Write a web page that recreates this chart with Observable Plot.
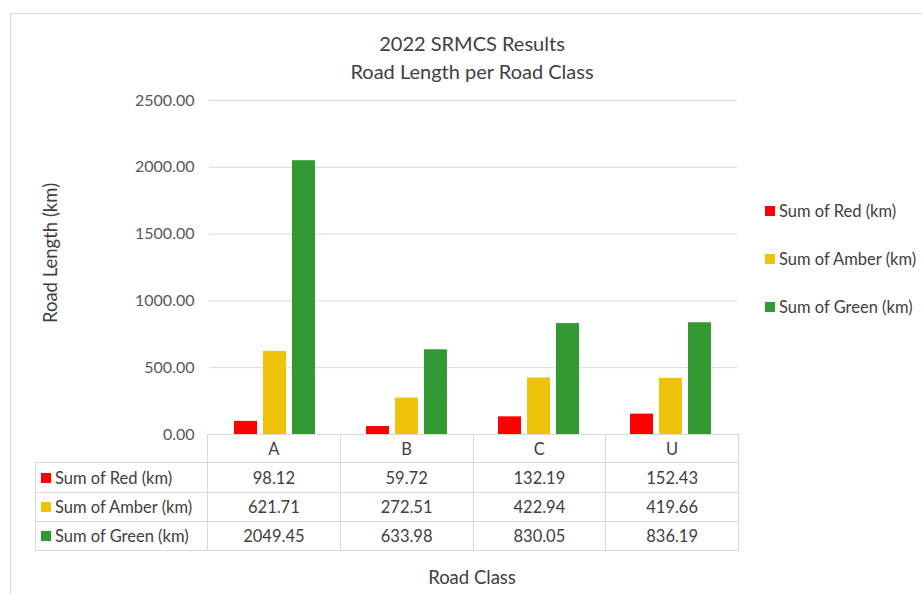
<!DOCTYPE html>
<html><head><meta charset="utf-8">
<script src="https://cdn.jsdelivr.net/npm/d3@7"></script>
<script src="https://cdn.jsdelivr.net/npm/@observablehq/plot@0.6"></script>
<style>
body{margin:0;background:#fff;font-family:Lato,"Open Sans",sans-serif;color:#595959;}
#wrap{position:relative;width:922px;height:594px;overflow:hidden;background:#fff;}
#frame{position:absolute;left:10px;top:13px;width:960px;height:640px;border:1px solid #d9d9d9;box-sizing:border-box;}
.abs{position:absolute;white-space:nowrap;}
#title{left:0;width:944px;top:29px;text-align:center;font-size:20px;line-height:28px;color:#404040;}
#ytitle{left:50px;top:253px;transform:translate(-50%,-50%) rotate(-90deg);font-size:18.5px;color:#404040;}
#xtitle{left:472px;top:577px;transform:translate(-50%,-50%);font-size:18.5px;color:#404040;}
.leg{font-size:16.5px;color:#404040;display:flex;align-items:center;}
.sw{display:inline-block;width:10px;height:10px;margin-right:4px;flex:none;}
.cell{position:absolute;box-sizing:border-box;border:1px solid #d9d9d9;display:flex;align-items:center;justify-content:center;font-size:16.5px;color:#404040;white-space:nowrap;}
.rowlab{justify-content:flex-start;padding-left:5px;}
</style>
</head><body>
<div id="wrap"><div id="frame"></div></div>
<script>
const categories = ["A", "B", "C", "U"];
const seriesNames = ["Sum of Red (km)", "Sum of Amber (km)", "Sum of Green (km)"];
const red = [98.12, 59.72, 132.19, 152.43];
const amber = [621.71, 272.51, 422.94, 419.66];
const green = [2049.45, 633.98, 830.05, 836.19];
const colors = ["#ff0000", "#efc20b", "#339933"];
const yTicks = [0, 500, 1000, 1500, 2000, 2500];
const titleLines = ["2022 SRMCS Results", "Road Length per Road Class"];
const yTitle = "Road Length (km)";
const xTitle = "Road Class";

const seriesValues = [red, amber, green];
const rows = categories.flatMap((c, i) => seriesValues.map((arr, k) => ({cls: c, series: seriesNames[k], value: arr[i]})));

const W = 922, H = 594;
const plotLeft = 207, plotRight = 738, plotTop = 100, plotBottom = 434;
const wrap = document.getElementById("wrap");

const chart = Plot.plot({
  width: W, height: H,
  marginTop: plotTop, marginBottom: H - plotBottom, marginLeft: plotLeft, marginRight: W - plotRight,
  style: {fontFamily: "Lato, 'Open Sans', sans-serif", background: "transparent"},
  fx: {domain: categories, padding: 0, axis: null, label: null},
  x: {domain: seriesNames, paddingInner: 0.2, paddingOuter: 0.87, axis: null, label: null},
  y: {domain: [0, 2500], label: null, axis: null},
  color: {domain: seriesNames, range: colors},
  marks: [
    Plot.gridY(yTicks, {stroke: "#d9d9d9", strokeOpacity: 1, strokeWidth: 1}),
    Plot.axisY(yTicks, {tickSize: 0, tickPadding: 15, tickFormat: d => d.toFixed(2), fontSize: 16, fill: "#595959", label: null, facetAnchor: "left"}),
    Plot.barY(rows, {fx: "cls", x: "series", y: "value", fill: "series"})
  ]
});
chart.style.position = "absolute";
chart.style.left = "0px";
chart.style.top = "0px";
wrap.appendChild(chart);

function add(html, cls, id, style) {
  const d = document.createElement("div");
  d.className = cls;
  if (id) d.id = id;
  if (style) Object.assign(d.style, style);
  d.innerHTML = html;
  wrap.appendChild(d);
  return d;
}
add(titleLines.join("<br>"), "abs", "title");
add(yTitle, "abs", "ytitle");
add(xTitle, "abs", "xtitle");

// legend
const legY = [211, 259, 307];
seriesNames.forEach((s, k) => {
  add(`<span class="sw" style="background:${colors[k]}"></span>${s}`, "abs leg", null, {left: "765px", top: (legY[k] - 10) + "px", height: "20px"});
});

// data table
const tableLeft = 35;
const colW = (plotRight - plotLeft) / categories.length;
const rowTops = [434, 462, 492, 521, 550];
categories.forEach((c, i) => {
  add(c, "cell", null, {left: (plotLeft + i * colW) + "px", top: rowTops[0] + "px", width: (colW + 1) + "px", height: (rowTops[1] - rowTops[0] + 1) + "px"});
});
seriesNames.forEach((s, k) => {
  const top = rowTops[k + 1], h = rowTops[k + 2] - top + 1;
  add(`<span class="sw" style="background:${colors[k]}"></span>${s}`, "cell rowlab", null, {left: tableLeft + "px", top: top + "px", width: (plotLeft - tableLeft + 1) + "px", height: h + "px"});
  categories.forEach((c, i) => {
    add(seriesValues[k][i].toFixed(2), "cell", null, {left: (plotLeft + i * colW) + "px", top: top + "px", width: (colW + 1) + "px", height: h + "px"});
  });
});
</script>
</body></html>
